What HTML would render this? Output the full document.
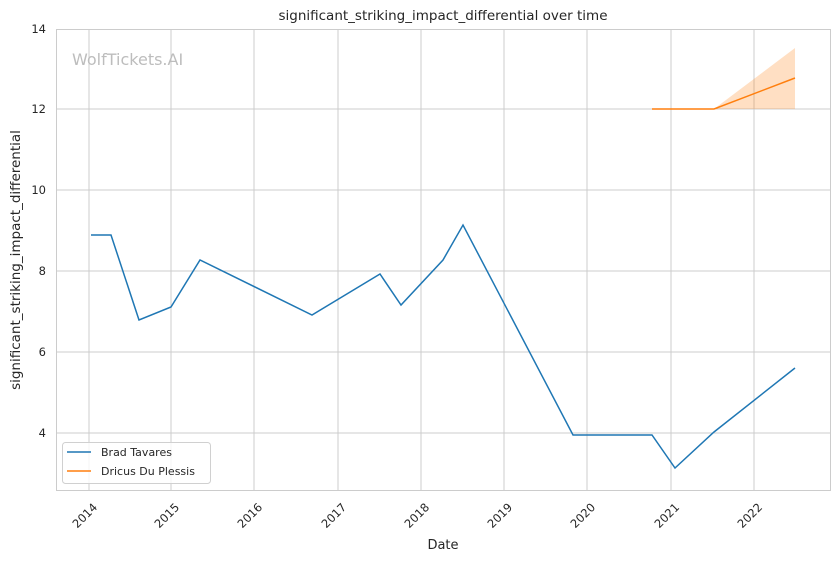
<!DOCTYPE html>
<html><head><meta charset="utf-8"><style>
body{margin:0;background:#fff;}
svg text{font-family:"DejaVu Sans","Liberation Sans",sans-serif;fill:#262626;}
</style></head><body>
<svg width="840" height="561" viewBox="0 0 840 561" xmlns="http://www.w3.org/2000/svg">
<rect width="840" height="561" fill="#fff"/>
<g stroke="#cccccc" stroke-width="1">
<line x1="89" y1="29" x2="89" y2="490"/><line x1="171" y1="29" x2="171" y2="490"/>
<line x1="254" y1="29" x2="254" y2="490"/><line x1="338" y1="29" x2="338" y2="490"/>
<line x1="421" y1="29" x2="421" y2="490"/><line x1="504" y1="29" x2="504" y2="490"/>
<line x1="587" y1="29" x2="587" y2="490"/><line x1="671" y1="29" x2="671" y2="490"/>
<line x1="754" y1="29" x2="754" y2="490"/>
<line x1="56" y1="109" x2="831" y2="109"/><line x1="56" y1="190" x2="831" y2="190"/>
<line x1="56" y1="271" x2="831" y2="271"/><line x1="56" y1="352" x2="831" y2="352"/>
<line x1="56" y1="433" x2="831" y2="433"/>
</g>
<rect x="56.5" y="29.5" width="774" height="461" fill="none" stroke="#cccccc"/>
<text x="72" y="65" font-size="16" style="fill:#bdbdbd">WolfTickets.AI</text>
<polygon points="714,109 795,48 795,109" fill="#ff7f0e" fill-opacity="0.25"/>
<polyline fill="none" stroke="#1f77b4" stroke-width="1.5" points="91,235 111,235 139,320 171,307 200,260 312,315 380,274 401,305 443,260 463,225 573,435 652,435 675,468 714,432 795,368"/>
<polyline fill="none" stroke="#ff7f0e" stroke-width="1.5" points="652,109 714,109 795,78"/>
<g font-size="11.5" text-anchor="end">
<text x="46" y="33">14</text><text x="46" y="113">12</text><text x="46" y="194">10</text>
<text x="46" y="275">8</text><text x="46" y="356">6</text><text x="46" y="437">4</text>
</g>
<g font-size="11.5" text-anchor="end">
<text transform="translate(98,508) rotate(-45)">2014</text>
<text transform="translate(180,508) rotate(-45)">2015</text>
<text transform="translate(263,508) rotate(-45)">2016</text>
<text transform="translate(347,508) rotate(-45)">2017</text>
<text transform="translate(430,508) rotate(-45)">2018</text>
<text transform="translate(513,508) rotate(-45)">2019</text>
<text transform="translate(596,508) rotate(-45)">2020</text>
<text transform="translate(680,508) rotate(-45)">2021</text>
<text transform="translate(763,508) rotate(-45)">2022</text>
</g>
<text x="443" y="549" font-size="13" text-anchor="middle">Date</text>
<text transform="translate(20,260) rotate(-90)" font-size="13.5" text-anchor="middle">significant_striking_impact_differential</text>
<text x="443" y="20" font-size="13.5" text-anchor="middle">significant_striking_impact_differential over time</text>
<rect x="62.5" y="442.5" width="148" height="41" rx="3" fill="#fff" fill-opacity="0.8" stroke="#d0d0d0"/>
<line x1="67" y1="452" x2="91" y2="452" stroke="#1f77b4" stroke-width="1.5"/>
<line x1="67" y1="471" x2="91" y2="471" stroke="#ff7f0e" stroke-width="1.5"/>
<g font-size="11"><text x="101" y="456">Brad Tavares</text><text x="101" y="475">Dricus Du Plessis</text></g>
</svg>
</body></html>
